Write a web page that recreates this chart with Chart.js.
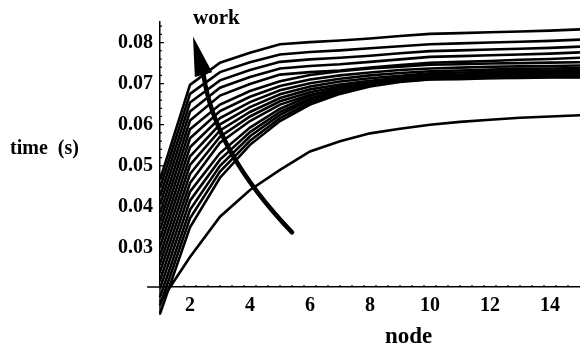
<!DOCTYPE html>
<html>
<head>
<meta charset="utf-8">
<script src="https://cdn.jsdelivr.net/npm/chart.js@4.4.1/dist/chart.umd.min.js"></script>
<style>
  html, body { margin: 0; padding: 0; background: #fff; }
</style>
</head>
<body>
<canvas id="chart" width="580" height="347"></canvas>
<script>
// x: node number, y: time in seconds, one curve per amount of work
let nodes = [1, 2, 3, 4, 5, 6, 7, 8, 9, 10, 11, 12, 13, 14, 15];
let xTicks = [2, 4, 6, 8, 10, 12, 14];
let yTicks = [0.03, 0.04, 0.05, 0.06, 0.07, 0.08];

// most work (top at node 2) down to least work
let work01 = [0.0466, 0.0697, 0.0751, 0.0775, 0.0796, 0.0801, 0.0805, 0.0810, 0.0816, 0.0821, 0.0823, 0.0825, 0.0827, 0.0829, 0.0832];
let work02 = [0.0446, 0.0675, 0.0728, 0.0752, 0.0771, 0.0777, 0.0781, 0.0786, 0.0791, 0.0796, 0.0798, 0.0800, 0.0802, 0.0804, 0.0807];
let work03 = [0.0425, 0.0654, 0.0708, 0.0733, 0.0753, 0.0759, 0.0763, 0.0768, 0.0774, 0.0779, 0.0781, 0.0783, 0.0785, 0.0787, 0.0790];
let work04 = [0.0405, 0.0632, 0.0690, 0.0716, 0.0737, 0.0743, 0.0747, 0.0753, 0.0759, 0.0765, 0.0767, 0.0769, 0.0771, 0.0773, 0.0776];
let work05 = [0.0384, 0.0610, 0.0671, 0.0699, 0.0722, 0.0728, 0.0732, 0.0739, 0.0745, 0.0751, 0.0753, 0.0755, 0.0758, 0.0760, 0.0763];
let work06 = [0.0364, 0.0589, 0.0649, 0.0682, 0.0706, 0.0721, 0.0730, 0.0737, 0.0741, 0.0746, 0.0747, 0.0749, 0.0750, 0.0751, 0.0752];
let work07 = [0.0344, 0.0567, 0.0633, 0.0668, 0.0694, 0.0710, 0.0720, 0.0727, 0.0733, 0.0737, 0.0739, 0.0741, 0.0742, 0.0743, 0.0744];
let work08 = [0.0323, 0.0545, 0.0616, 0.0655, 0.0684, 0.0701, 0.0712, 0.0720, 0.0726, 0.0730, 0.0732, 0.0734, 0.0736, 0.0737, 0.0738];
let work09 = [0.0303, 0.0523, 0.0601, 0.0643, 0.0674, 0.0693, 0.0705, 0.0713, 0.0719, 0.0725, 0.0727, 0.0729, 0.0731, 0.0732, 0.0733];
let work10 = [0.0282, 0.0502, 0.0586, 0.0631, 0.0665, 0.0686, 0.0698, 0.0707, 0.0714, 0.0720, 0.0722, 0.0725, 0.0727, 0.0728, 0.0729];
let work11 = [0.0262, 0.0480, 0.0571, 0.0620, 0.0657, 0.0679, 0.0693, 0.0703, 0.0710, 0.0716, 0.0719, 0.0721, 0.0724, 0.0725, 0.0726];
let work12 = [0.0242, 0.0458, 0.0556, 0.0609, 0.0649, 0.0673, 0.0687, 0.0698, 0.0706, 0.0712, 0.0715, 0.0718, 0.0720, 0.0722, 0.0723];
let work13 = [0.0221, 0.0437, 0.0531, 0.0593, 0.0639, 0.0670, 0.0690, 0.0704, 0.0713, 0.0717, 0.0718, 0.0720, 0.0720, 0.0721, 0.0721];
let work14 = [0.0201, 0.0415, 0.0515, 0.0582, 0.0631, 0.0664, 0.0686, 0.0701, 0.0710, 0.0714, 0.0716, 0.0718, 0.0718, 0.0719, 0.0719];
let work15 = [0.0180, 0.0393, 0.0500, 0.0572, 0.0624, 0.0660, 0.0682, 0.0699, 0.0708, 0.0713, 0.0715, 0.0716, 0.0717, 0.0718, 0.0718];
let work16 = [0.0160, 0.0372, 0.0486, 0.0561, 0.0616, 0.0654, 0.0678, 0.0695, 0.0706, 0.0711, 0.0713, 0.0714, 0.0715, 0.0716, 0.0716];
let work17 = [0.0140, 0.0350, 0.0471, 0.0551, 0.0609, 0.0649, 0.0675, 0.0693, 0.0704, 0.0710, 0.0711, 0.0713, 0.0714, 0.0715, 0.0715];
// the single slow curve under the bundle
let lowest = [0.0168, 0.0278, 0.0376, 0.0441, 0.0490, 0.0535, 0.0560, 0.0579, 0.0590, 0.0600, 0.0607, 0.0612, 0.0617, 0.0620, 0.0623];

let series = [work01, work02, work03, work04, work05, work06, work07, work08, work09,
              work10, work11, work12, work13, work14, work15, work16, work17, lowest];

// axes cross at node 1 / 0.0205 s, and both run a little past the crossing
let axisCross = 0.0205;
let axisLeftEnd = 0.57;
let axisBottomEnd = 0.0137;

// "work" arrow, in data units: tail, bend, base of head, tip
let arrowTail = [5.4, 0.0338];
let arrowBend = [2.82, 0.0535];
let arrowBase = [2.45, 0.0722];
let arrowTip = [2.1, 0.0815];

let serif = '"Liberation Serif", "Times New Roman", serif';

let extras = {
    id: 'extras',
    afterDraw(chart) {
        let ctx = chart.ctx;
        let xs = chart.scales.x, ys = chart.scales.y;
        let px = p => [xs.getPixelForValue(p[0]), ys.getPixelForValue(p[1])];
        let x0 = xs.left;
        let yc = ys.getPixelForValue(axisCross);
        ctx.save();
        ctx.strokeStyle = '#000';
        ctx.fillStyle = '#000';

        // axis stubs past the crossing point
        ctx.lineWidth = 1.5;
        ctx.beginPath();
        ctx.moveTo(xs.getPixelForValue(axisLeftEnd), yc);
        ctx.lineTo(x0, yc);
        ctx.moveTo(x0, ys.bottom);
        ctx.lineTo(x0, ys.getPixelForValue(axisBottomEnd));
        ctx.stroke();

        // tick marks point inward, with small minor ones between
        ctx.lineWidth = 1.2;
        ctx.beginPath();
        for (let v = 1.4; v < 15; v += 0.4) {
            let major = xTicks.some(t => Math.abs(t - v) < 0.01);
            let p = xs.getPixelForValue(v);
            ctx.moveTo(p, yc);
            ctx.lineTo(p, yc - (major ? 4 : 2));
        }
        for (let v = 0.022; v < 0.085; v += 0.002) {
            let major = yTicks.some(t => Math.abs(t - v) < 0.0001);
            let p = ys.getPixelForValue(v);
            ctx.moveTo(x0, p);
            ctx.lineTo(x0 + (major ? 4 : 2), p);
        }
        ctx.stroke();

        // curved arrow
        let t = px(arrowTail), c = px(arrowBend), b = px(arrowBase), h = px(arrowTip);
        ctx.lineWidth = 4.5;
        ctx.lineCap = 'round';
        ctx.beginPath();
        ctx.moveTo(t[0], t[1]);
        ctx.quadraticCurveTo(c[0], c[1], b[0], b[1]);
        ctx.stroke();
        let dx = h[0] - b[0], dy = h[1] - b[1];
        let len = Math.sqrt(dx * dx + dy * dy);
        let nx = -dy / len * 9, ny = dx / len * 9;
        ctx.beginPath();
        ctx.moveTo(h[0], h[1]);
        ctx.lineTo(b[0] + nx, b[1] + ny);
        ctx.lineTo(b[0] - nx, b[1] - ny);
        ctx.closePath();
        ctx.fill();

        // titles
        ctx.font = 'bold 21px ' + serif;
        ctx.textBaseline = 'alphabetic';
        ctx.fillText('work', 193, 24);
        ctx.font = 'bold 20px ' + serif;
        ctx.fillText('time  (s)', 10, 154);
        ctx.font = 'bold 23px ' + serif;
        ctx.fillText('node', 385, 343);
        ctx.restore();
    }
};

let datasets = series.map(s => ({
    data: s.map((v, i) => ({x: nodes[i], y: v})),
    borderColor: '#000',
    borderWidth: 2.6,
    pointRadius: 0,
    tension: 0,
    fill: false,
    clip: false
}));

new Chart(document.getElementById('chart'), {
    type: 'line',
    data: {datasets: datasets},
    options: {
        responsive: false,
        animation: false,
        events: [],
        layout: {padding: {top: 22, right: 0, bottom: 0, left: 0}},
        plugins: {legend: {display: false}, tooltip: {enabled: false}},
        scales: {
            x: {
                type: 'linear',
                min: 1,
                max: 15,
                afterFit: s => { s.height = 60; },
                afterBuildTicks: s => { s.ticks = xTicks.map(v => ({value: v})); },
                border: {color: '#000', width: 1.5},
                grid: {display: true, drawOnChartArea: false, drawTicks: false},
                ticks: {color: '#000', padding: 7, maxRotation: 0, font: {family: serif, size: 20, weight: 'bold'}}
            },
            y: {
                min: axisCross,
                max: 0.085,
                afterFit: s => { s.width = 160; },
                afterBuildTicks: s => { s.ticks = yTicks.map(v => ({value: v})); },
                border: {color: '#000', width: 1.5},
                grid: {display: true, drawOnChartArea: false, drawTicks: false},
                ticks: {color: '#000', padding: 7, font: {family: serif, size: 20, weight: 'bold'},
                        callback: v => v.toFixed(2)}
            }
        }
    },
    plugins: [extras]
});
</script>
</body>
</html>
